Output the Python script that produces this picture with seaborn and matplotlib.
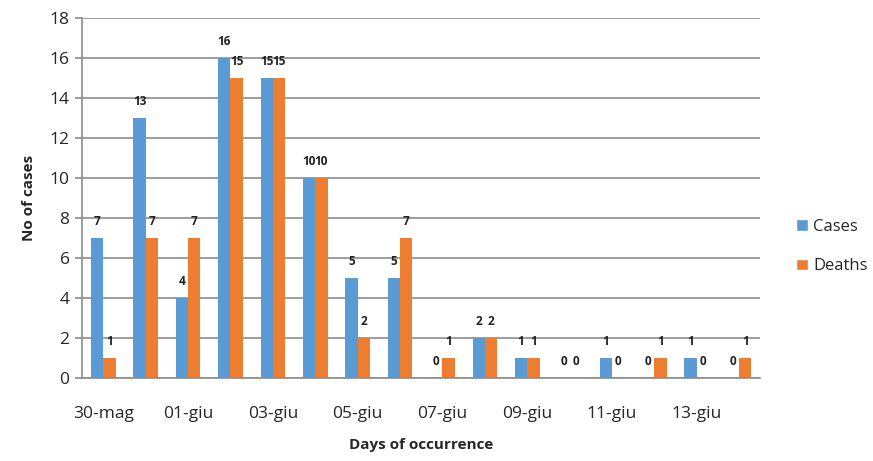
import matplotlib
matplotlib.use("Agg")
import matplotlib.pyplot as plt
import seaborn as sns
import pandas as pd
from matplotlib.patches import Patch

days = ["30-mag", "31-mag", "01-giu", "02-giu", "03-giu", "04-giu", "05-giu", "06-giu",
        "07-giu", "08-giu", "09-giu", "10-giu", "11-giu", "12-giu", "13-giu", "14-giu"]
cases = [7, 13, 4, 16, 15, 10, 5, 5, 0, 2, 1, 0, 1, 0, 1, 0]
deaths = [1, 7, 7, 15, 15, 10, 2, 7, 1, 2, 1, 0, 0, 1, 0, 1]
series = ["Cases", "Deaths"]
colors = ["#5B9BD5", "#ED7D31"]

df = pd.DataFrame({
    "day": days * 2,
    "value": cases + deaths,
    "series": [series[0]] * len(days) + [series[1]] * len(days),
})

sns.set_theme(style="white")
plt.rcParams["font.family"] = ["Open Sans", "DejaVu Sans"]

fig = plt.figure(figsize=(8.73, 4.61), dpi=100)
ax = fig.add_axes([0.094, 0.18, 0.777, 0.781])

sns.barplot(data=df, x="day", y="value", hue="series", order=days, hue_order=series,
            palette=colors, width=0.58, gap=0, ax=ax, legend=False, saturation=1,
            linewidth=0, edgecolor="none")

for cont in ax.containers:
    ax.bar_label(cont, padding=7, fontsize=8.5, fontweight="bold", color="#222222")

ax.set_ylim(0, 18)
ax.set_xlim(-0.5, len(days) - 0.5)
ax.set_yticks(range(0, 19, 2))
ax.yaxis.grid(True, color="#8c8c8c", linewidth=1.2)
ax.set_axisbelow(True)
ax.set_xticks(range(0, len(days), 2))
ax.set_xticklabels(days[::2], fontsize=12.5)
ax.tick_params(axis="x", length=0, pad=20)
ax.tick_params(axis="y", length=5, width=1.2, color="#8c8c8c", labelsize=12.5, pad=4, left=True)
for s in ["top", "right"]:
    ax.spines[s].set_visible(False)
for s in ["left", "bottom"]:
    ax.spines[s].set_color("#8c8c8c")
    ax.spines[s].set_linewidth(1.2)

ax.set_ylabel("No of cases", fontsize=11, fontweight="bold", labelpad=10)
ax.set_xlabel("Days of occurrence", fontsize=11, fontweight="bold", labelpad=12)

handles = [Patch(facecolor=c, label=l) for c, l in zip(colors, series)]
fig.legend(handles=handles, loc="center left", bbox_to_anchor=(0.895, 0.465), frameon=False,
           fontsize=12, handlelength=0.7, handleheight=0.7, handletextpad=0.3, labelspacing=1.4)

fig.savefig("out.png", dpi=100)
